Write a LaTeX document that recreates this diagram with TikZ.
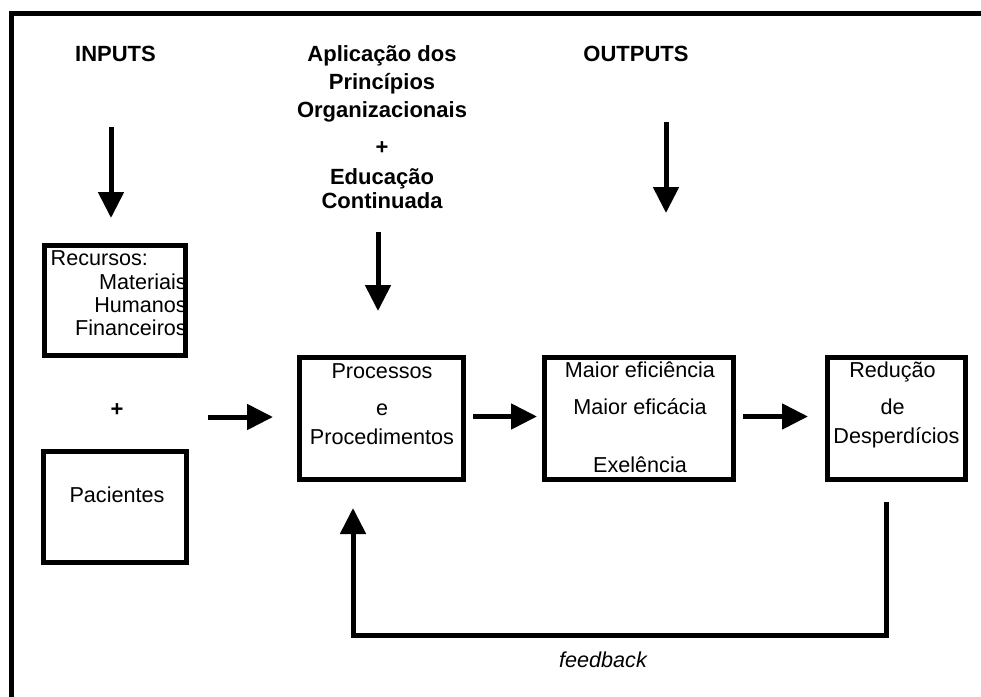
\documentclass[tikz,border=0pt]{standalone}
\usepackage{fontspec}
\setmainfont{Liberation Sans}
\usetikzlibrary{arrows.meta,positioning}

\tikzset{
  box/.style={draw, line width=5pt, inner sep=0pt},
  txt/.style={inner sep=0pt, font=\fontsize{21.6}{26}\selectfont},
  head/.style={inner sep=0pt, font=\fontsize{22}{26}\selectfont\bfseries},
  flow/.style={line width=5pt, -{Triangle[length=26pt,width=25pt]}}
}

\begin{document}
\begin{tikzpicture}[x=1pt, y=-1pt, node distance=76pt]
\useasboundingbox (0,0) rectangle (981,696);
% frame, open to the right and bottom
\draw[line width=5pt] (11.5,720) -- (11.5,13) -- (1000,13);

% headings
\node (inputs)[head, anchor=base] at (115.5,61) {INPUTS};
\node (outputs)[head, anchor=base] at (636,61) {OUTPUTS};
\foreach \name/\txt/\yy in {apl/Aplicação dos/61, pri/Princípios/89, org/Organizacionais/117, edu/Educação/184, con/Continuada/208}
  \node (\name)[head, anchor=base] at (382,\yy) {\txt};
\node (plustop)[head] at (382,148) {+};

% boxes
\node (rec)[box, minimum width=141pt, minimum height=110pt] at (115,300.5) {};
\node (pac)[box, minimum width=143pt, minimum height=111pt, below=91pt of rec] {};
\node (proc)[box, minimum width=164pt, minimum height=122pt] at (381.5,418.5) {};
\node (efic)[box, minimum width=189pt, minimum height=122pt, right=of proc] {};
\node (redu)[box, minimum width=138pt, minimum height=122pt, right=89pt of efic] {};
\node (plusleft)[head] at (117,410) {+};

% texts in the boxes
\node (rectitle)[txt, anchor=base west] at (50.5,265) {Recursos:};
\foreach \name/\txt/\yy in {mat/Materiais/289, hum/Humanos/312, fin/Financeiros/335}
  \node (\name)[txt, anchor=base east] at (187,\yy) {\txt};
\node (pactxt)[txt, anchor=base] at (117,502) {Pacientes};
\foreach \name/\txt/\yy in {p1/Processos/378, p2/e/415, p3/Procedimentos/444}
  \node (\name)[txt, anchor=base] at (382,\yy) {\txt};
\foreach \name/\txt/\yy in {m1/Maior eficiência/377, m2/Maior eficácia/414, m3/Exelência/472}
  \node (\name)[txt, anchor=base] at (640,\yy) {\txt};
\node (r1)[txt, anchor=base] at (892.5,377) {Redução};
\node (r2)[txt, anchor=base] at (892.5,414) {de};
\node (r3)[txt, anchor=base] at (896.5,443) {Desperdícios};
\node (fbtxt)[txt, anchor=base, font=\fontsize{21.6}{26}\selectfont\itshape] at (603,667) {feedback};

% arrows
\coordinate (indown) at (111,127);
\coordinate (princdown) at (378,232);
\coordinate (outdown) at (666,122);
\coordinate (inflow) at (208,417);
\draw[flow, shorten >=25pt] (indown) -- (indown |- rec.north);
\draw[flow, shorten >=44pt] (princdown) -- (princdown |- proc.north);
\draw[flow, shorten >=142pt] (outdown) -- (outdown |- efic.north);
\draw[flow, shorten >=24pt] (inflow) -- (inflow -| proc.west);
\draw[flow, shorten <=7pt, shorten >=5pt] ([yshift=2pt]proc.east) -- ([yshift=2pt]efic.west);
\draw[flow, shorten <=7pt, shorten >=17pt] ([yshift=2pt]efic.east) -- ([yshift=2pt]redu.west);
% feedback loop
\draw[flow, shorten <=20pt, shorten >=26pt] ([xshift=-10.5pt]redu.south) |- (353,635) -- (353,635 |- proc.south);
\end{tikzpicture}
\end{document}
